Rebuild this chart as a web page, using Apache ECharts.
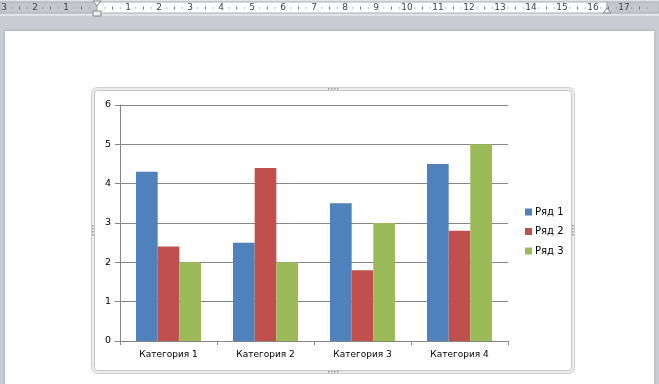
<!DOCTYPE html>
<html><head><meta charset="utf-8">
<script src="https://cdn.jsdelivr.net/npm/echarts@6/dist/echarts.min.js"></script>
<style>html,body{margin:0;padding:0;background:#c9cdd3;}#c{width:659px;height:384px;}</style>
</head><body><div id="c"></div>
<script>
const categories = ['Категория 1', 'Категория 2', 'Категория 3', 'Категория 4'];
const series1 = [4.3, 2.5, 3.5, 4.5];
const series2 = [2.4, 4.4, 1.8, 2.8];
const series3 = [2, 2, 3, 5];
const seriesNames = ['Ряд 1', 'Ряд 2', 'Ряд 3'];
const rulerLeft = ['3', '2', '1'];
const rulerRight = ['1','2','3','4','5','6','7','8','9','10','11','12','13','14','15','16','17'];

const colors = ['#4F81BD', '#C0504D', '#9BBB59'];
const font = 'DejaVu Sans';

const chart = echarts.init(document.getElementById('c'), null, {renderer: 'canvas'});

// decoration: Word ruler + page + chart frame
const g = [];
g.push({type: 'rect', shape: {x: 0, y: 0, width: 659, height: 384}, style: {fill: '#c9cdd3'}, z: -10});
g.push({type: 'rect', shape: {x: 0, y: 0, width: 659, height: 16}, style: {fill: '#dfe3e8'}, z: -9});
g.push({type: 'rect', shape: {x: 0, y: 2, width: 97, height: 11}, style: {fill: '#c4c8ce', stroke: '#a8adb4', lineWidth: 1}, z: -8});
g.push({type: 'rect', shape: {x: 97, y: 2, width: 510, height: 11}, style: {fill: '#ffffff', stroke: '#a8adb4', lineWidth: 1}, z: -8});
g.push({type: 'rect', shape: {x: 607, y: 2, width: 52, height: 11}, style: {fill: '#c4c8ce', stroke: '#a8adb4', lineWidth: 1}, z: -8});
const cm = 31.0;
rulerLeft.forEach((t, i) => {
  g.push({type: 'text', x: 97 - cm * (3 - i), y: 8, style: {text: t, fill: '#444', font: '9px ' + font, align: 'center', verticalAlign: 'middle'}, z: -7});
});
rulerRight.forEach((t, i) => {
  g.push({type: 'text', x: 97 + cm * (i + 1), y: 8, style: {text: t, fill: '#444', font: '9px ' + font, align: 'center', verticalAlign: 'middle'}, z: -7});
});
for (let k = -12; k < 72; k++) {
  const x = 97 + k * cm / 4;
  if (x < 1 || x > 657 || k % 4 === 0) continue;
  const big = (k % 2 !== 0) ? 1 : 3;
  g.push({type: 'line', shape: {x1: x, y1: 8 - big / 2, x2: x, y2: 8 + big / 2}, style: {stroke: '#777', lineWidth: 1}, z: -7});
}
// indent markers
g.push({type: 'polygon', shape: {points: [[93, 1], [101, 1], [97, 6]]}, style: {fill: '#eef0f2', stroke: '#888', lineWidth: 1}, z: -6});
g.push({type: 'rect', shape: {x: 93, y: 11, width: 8, height: 5}, style: {fill: '#eef0f2', stroke: '#888', lineWidth: 1}, z: -6});
g.push({type: 'polygon', shape: {points: [[603, 13], [611, 13], [607, 8]]}, style: {fill: '#eef0f2', stroke: '#888', lineWidth: 1}, z: -6});
// page
g.push({type: 'rect', shape: {x: 5, y: 31, width: 649, height: 360}, style: {fill: '#ffffff', shadowColor: 'rgba(0,0,0,0.2)', shadowBlur: 3}, z: -5});
// chart frame
g.push({type: 'rect', shape: {x: 93, y: 89, width: 480, height: 283, r: 5}, style: {fill: 'none', stroke: '#ececec', lineWidth: 3}, z: -4});
g.push({type: 'rect', shape: {x: 91.5, y: 87.5, width: 483, height: 286, r: 6}, style: {fill: 'none', stroke: '#cfcfcf', lineWidth: 1}, z: -4});
g.push({type: 'rect', shape: {x: 94.5, y: 90.5, width: 477, height: 280, r: 3}, style: {fill: '#ffffff', stroke: '#c6c6c6', lineWidth: 1}, z: -4});
// handles
[[333, 89], [333, 372]].forEach(p => {
  for (let i = 0; i < 4; i++) g.push({type: 'rect', shape: {x: p[0] - 5 + i * 3, y: p[1] - 1, width: 1.5, height: 1.5}, style: {fill: '#999'}, z: -3});
});
[[93, 230], [573, 230]].forEach(p => {
  for (let i = 0; i < 4; i++) g.push({type: 'rect', shape: {x: p[0] - 1, y: p[1] - 5 + i * 3, width: 1.5, height: 1.5}, style: {fill: '#999'}, z: -3});
});

const mk = (name, data, c) => ({
  name, type: 'bar', data, barGap: '0%', barCategoryGap: '33%',
  itemStyle: {color: c}
});

chart.setOption({
  animation: false,
  textStyle: {fontFamily: font},
  graphic: g,
  color: colors,
  grid: {left: 120, right: 151, top: 105, bottom: 43, containLabel: false},
  legend: {
    orient: 'vertical', left: 520, top: 202, itemWidth: 7, itemHeight: 7, itemGap: 9.5,
    icon: 'rect', textStyle: {fontSize: 10, color: '#000', fontFamily: font, padding: [0, 0, 0, -2]},
    data: seriesNames
  },
  xAxis: {
    type: 'category', data: categories,
    axisLine: {lineStyle: {color: '#868686'}},
    axisTick: {show: true, interval: 0, length: 4, lineStyle: {color: '#868686'}},
    axisLabel: {fontSize: 9, color: '#000', margin: 9, fontFamily: font}
  },
  yAxis: {
    type: 'value', min: 0, max: 6, interval: 1,
    axisLine: {show: true, lineStyle: {color: '#868686'}},
    axisTick: {show: true, length: 5, lineStyle: {color: '#868686'}},
    splitLine: {lineStyle: {color: '#868686'}},
    axisLabel: {fontSize: 9.5, color: '#000', margin: 9, fontFamily: font}
  },
  series: [mk(seriesNames[0], series1, colors[0]), mk(seriesNames[1], series2, colors[1]), mk(seriesNames[2], series3, colors[2])]
});
</script></body></html>
